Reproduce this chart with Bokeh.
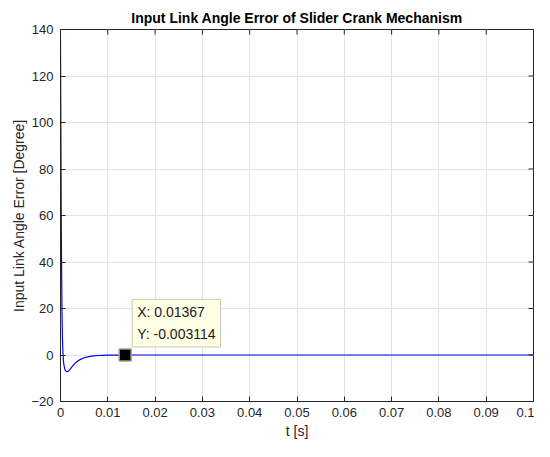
import math
from bokeh.plotting import figure
from bokeh.models import FixedTicker, Label, Range1d
from bokeh.embed import file_html
from bokeh.resources import INLINE

# data
t = [0, 0.00005, 0.0001, 0.00015, 0.0002, 0.0003, 0.0004, 0.0005, 0.0006, 0.0007,
     0.0009, 0.0011, 0.0014, 0.0017, 0.002, 0.0025, 0.003, 0.0035, 0.004, 0.005,
     0.006, 0.007, 0.008, 0.009, 0.01, 0.011, 0.012, 0.01367, 0.015, 0.02, 0.03,
     0.05, 0.07, 0.1]
err = [136, 110, 85, 62, 45, 22, 8, 1.5, -2.0, -4.0,
       -6.0, -6.9, -7.2, -6.9, -6.2, -4.9, -3.7, -2.8, -2.1, -1.2,
       -0.7, -0.4, -0.22, -0.12, -0.06, -0.03, -0.012, -0.003114, -0.001, 0, 0,
       0, 0, 0]

x_ticks = [0, 0.01, 0.02, 0.03, 0.04, 0.05, 0.06, 0.07, 0.08, 0.09, 0.1]
x_tick_labels = ["0", "0.01", "0.02", "0.03", "0.04", "0.05", "0.06", "0.07", "0.08", "0.09", "0.1"]
y_ticks = [-20, 0, 20, 40, 60, 80, 100, 120, 140]

x_min, x_max = 0, 0.1
y_min, y_max = -20, 140

tip_x = 0.01367
tip_y = -0.003114

FONT = "Liberation Sans"
AX = "#262626"

p = figure(width=534, height=441, output_backend="svg", toolbar_location=None,
           x_range=Range1d(x_min, x_max), y_range=Range1d(y_min, y_max),
           min_border_left=60, min_border_right=1, min_border_top=29, min_border_bottom=40)

p.title.text = "Input Link Angle Error of Slider Crank Mechanism"
p.title.text_font = FONT
p.title.text_font_size = "14px"
p.title.text_font_style = "bold"
p.title.align = "center"
p.title.text_color = "#000000"
p.title.offset = 0
p.title.standoff = 8

p.line(t, err, line_color="#0000FF", line_width=1.2)

# inward ticks on the top and right sides of the box
p.ray(x=x_ticks, y=[y_max] * len(x_ticks), length=5, length_units="screen",
      angle=-math.pi / 2, line_color=AX, line_width=1)
p.ray(x=[x_max] * len(y_ticks), y=y_ticks, length=5, length_units="screen",
      angle=math.pi, line_color=AX, line_width=1)

p.scatter([tip_x], [tip_y], marker="square", size=12, fill_color="#000000",
          line_color="#A8A080", line_width=1.5)

lab = Label(x=tip_x, y=tip_y, x_offset=7, y_offset=8,
            text="X: 0.01367\nY: -0.003114", text_font=FONT, text_font_size="14px",
            text_color="#1a1a1a", text_align="left", text_baseline="bottom",
            background_fill_color="#FFFFE6", border_line_color="#C8C8B4",
            padding=5, text_line_height=1.35)
p.add_layout(lab)

for ax in (p.xaxis[0], p.yaxis[0]):
    ax.major_tick_in = 5
    ax.major_tick_out = 0
    ax.minor_tick_in = 0
    ax.minor_tick_out = 0
    ax.axis_line_color = AX
    ax.major_tick_line_color = AX
    ax.major_label_text_font = FONT
    ax.major_label_text_font_size = "13px"
    ax.major_label_text_color = AX
    ax.axis_label_text_font = FONT
    ax.axis_label_text_font_size = "14px"
    ax.axis_label_text_font_style = "normal"
    ax.axis_label_text_color = AX

p.xaxis.ticker = FixedTicker(ticks=x_ticks)
p.xaxis.major_label_overrides = {xv: s for xv, s in zip(x_ticks, x_tick_labels)}
p.yaxis.ticker = FixedTicker(ticks=y_ticks)
p.xaxis.axis_label = "t [s]"
p.yaxis.axis_label = "Input Link Angle Error [Degree]"
p.xaxis.major_label_standoff = 6
p.yaxis.major_label_standoff = 7
p.xaxis.axis_label_standoff = 3
p.yaxis.axis_label_standoff = 1

p.xgrid.grid_line_color = "#E3E3E3"
p.ygrid.grid_line_color = "#E3E3E3"
p.outline_line_color = AX
p.background_fill_color = "white"
p.border_fill_color = "white"

open("out.html", "w").write(file_html(p, INLINE))
